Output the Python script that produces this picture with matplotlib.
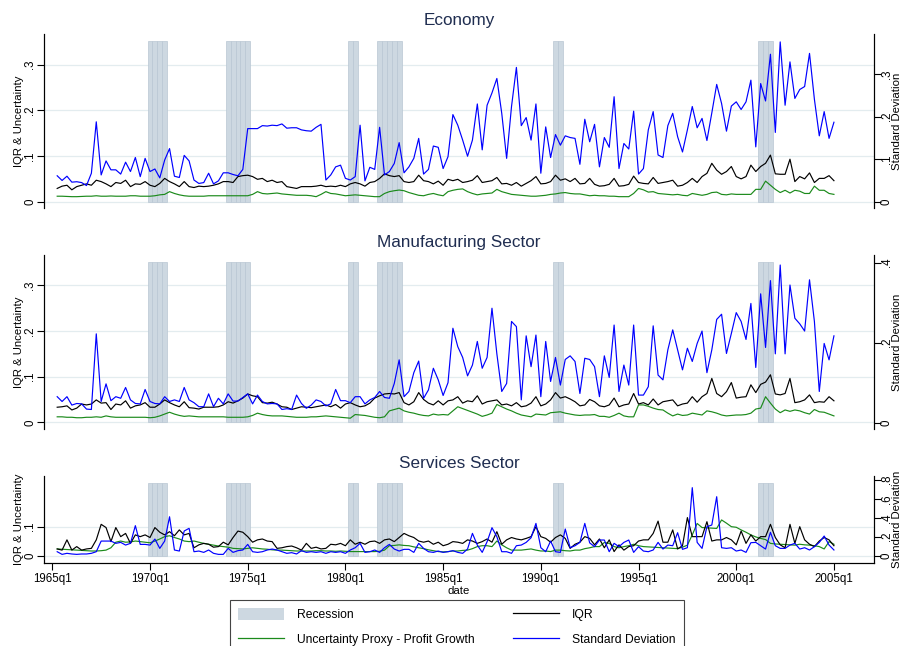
import numpy as np
import pandas as pd
import matplotlib
matplotlib.use("Agg")
import matplotlib.pyplot as plt
from matplotlib.patches import Patch
from matplotlib.lines import Line2D

plt.rcParams["font.family"] = ["Liberation Sans", "DejaVu Sans"]

# Trimestres de la muestra: 1965q2 - 2005q1
trimestres = pd.period_range("1965Q2", "2005Q1", freq="Q")

# Trimestres en recesion (NBER)
recesiones = ["1970Q1", "1970Q2", "1970Q3", "1970Q4",
              "1974Q1", "1974Q2", "1974Q3", "1974Q4", "1975Q1",
              "1980Q2", "1980Q3",
              "1981Q4", "1982Q1", "1982Q2", "1982Q3", "1982Q4",
              "1990Q4", "1991Q1",
              "2001Q2", "2001Q3", "2001Q4"]

# Altura de las barras de recesion en cada panel (eje izquierdo)
altura_recesion = [0.352, 0.350, 0.248]

# Economia
econ_sd = [0.061, 0.050, 0.060, 0.046, 0.047, 0.045, 0.038, 0.067, 0.188, 0.063,
           0.096, 0.075, 0.075, 0.065, 0.093, 0.071, 0.104, 0.059, 0.102, 0.071,
           0.077, 0.056, 0.098, 0.125, 0.060, 0.057, 0.109, 0.096, 0.051, 0.043,
           0.045, 0.067, 0.042, 0.049, 0.068, 0.068, 0.064, 0.061, 0.076, 0.172,
           0.172, 0.172, 0.179, 0.178, 0.180, 0.179, 0.183, 0.173, 0.174, 0.174,
           0.169, 0.167, 0.166, 0.175, 0.182, 0.051, 0.063, 0.082, 0.086, 0.055,
           0.051, 0.059, 0.180, 0.049, 0.081, 0.076, 0.175, 0.063, 0.071, 0.090,
           0.139, 0.068, 0.082, 0.102, 0.149, 0.065, 0.076, 0.131, 0.128, 0.078,
           0.106, 0.205, 0.180, 0.145, 0.107, 0.145, 0.230, 0.122, 0.227, 0.256,
           0.290, 0.208, 0.102, 0.224, 0.316, 0.179, 0.198, 0.145, 0.230, 0.067,
           0.176, 0.104, 0.158, 0.133, 0.155, 0.151, 0.149, 0.088, 0.194, 0.141,
           0.182, 0.082, 0.151, 0.128, 0.247, 0.078, 0.137, 0.124, 0.213, 0.065,
           0.078, 0.169, 0.212, 0.110, 0.104, 0.179, 0.208, 0.153, 0.117, 0.169,
           0.224, 0.174, 0.196, 0.144, 0.209, 0.276, 0.231, 0.166, 0.225, 0.235,
           0.217, 0.235, 0.286, 0.129, 0.278, 0.237, 0.347, 0.163, 0.376, 0.227,
           0.329, 0.243, 0.264, 0.271, 0.349, 0.241, 0.155, 0.212, 0.149, 0.187]
econ_iqr = [0.029, 0.034, 0.036, 0.026, 0.033, 0.036, 0.039, 0.036, 0.047, 0.044,
            0.039, 0.033, 0.042, 0.040, 0.047, 0.033, 0.039, 0.038, 0.044, 0.036,
            0.033, 0.040, 0.051, 0.044, 0.039, 0.033, 0.044, 0.033, 0.031, 0.034,
            0.033, 0.034, 0.036, 0.039, 0.044, 0.044, 0.042, 0.055, 0.057, 0.058,
            0.055, 0.049, 0.051, 0.044, 0.047, 0.042, 0.044, 0.033, 0.031, 0.029,
            0.033, 0.033, 0.033, 0.034, 0.036, 0.033, 0.034, 0.033, 0.036, 0.033,
            0.039, 0.042, 0.039, 0.034, 0.042, 0.044, 0.051, 0.061, 0.057, 0.055,
            0.057, 0.044, 0.042, 0.044, 0.058, 0.046, 0.044, 0.039, 0.045, 0.036,
            0.049, 0.046, 0.049, 0.042, 0.044, 0.047, 0.057, 0.042, 0.044, 0.046,
            0.053, 0.039, 0.040, 0.036, 0.042, 0.034, 0.040, 0.046, 0.055, 0.039,
            0.040, 0.044, 0.058, 0.047, 0.050, 0.044, 0.051, 0.039, 0.040, 0.051,
            0.038, 0.034, 0.035, 0.038, 0.051, 0.034, 0.035, 0.038, 0.056, 0.042,
            0.040, 0.039, 0.053, 0.040, 0.042, 0.044, 0.047, 0.034, 0.036, 0.042,
            0.051, 0.042, 0.055, 0.062, 0.084, 0.069, 0.060, 0.066, 0.077, 0.055,
            0.050, 0.055, 0.080, 0.066, 0.077, 0.084, 0.102, 0.061, 0.060, 0.060,
            0.093, 0.044, 0.055, 0.050, 0.063, 0.042, 0.051, 0.051, 0.057, 0.046]
econ_unc = [0.012, 0.012, 0.0115, 0.011, 0.011, 0.0115, 0.012, 0.012, 0.013, 0.012,
            0.012, 0.0125, 0.012, 0.012, 0.012, 0.013, 0.013, 0.012, 0.012, 0.012,
            0.013, 0.015, 0.016, 0.022, 0.018, 0.015, 0.013, 0.012, 0.012, 0.012,
            0.012, 0.013, 0.013, 0.013, 0.013, 0.013, 0.013, 0.013, 0.013, 0.013,
            0.016, 0.022, 0.018, 0.017, 0.018, 0.019, 0.017, 0.016, 0.015, 0.014,
            0.014, 0.014, 0.013, 0.011, 0.016, 0.022, 0.018, 0.017, 0.015, 0.013,
            0.014, 0.015, 0.014, 0.013, 0.012, 0.011, 0.011, 0.018, 0.022, 0.024,
            0.0255, 0.024, 0.020, 0.017, 0.014, 0.013, 0.016, 0.018, 0.015, 0.013,
            0.022, 0.025, 0.027, 0.028, 0.022, 0.018, 0.015, 0.017, 0.018, 0.019,
            0.027, 0.022, 0.019, 0.016, 0.015, 0.014, 0.013, 0.012, 0.012, 0.013,
            0.014, 0.016, 0.017, 0.019, 0.020, 0.018, 0.017, 0.017, 0.015, 0.013,
            0.014, 0.013, 0.013, 0.012, 0.012, 0.011, 0.011, 0.011, 0.018, 0.029,
            0.026, 0.021, 0.022, 0.018, 0.017, 0.016, 0.015, 0.016, 0.014, 0.013,
            0.018, 0.016, 0.014, 0.016, 0.020, 0.021, 0.016, 0.015, 0.017, 0.016,
            0.016, 0.016, 0.016, 0.027, 0.027, 0.045, 0.036, 0.027, 0.020, 0.025,
            0.019, 0.025, 0.023, 0.018, 0.018, 0.034, 0.025, 0.025, 0.018, 0.016]

# Sector manufacturero
manu_sd = [0.065, 0.053, 0.065, 0.044, 0.048, 0.047, 0.034, 0.033, 0.222, 0.053,
           0.097, 0.055, 0.065, 0.061, 0.088, 0.057, 0.048, 0.047, 0.083, 0.053,
           0.048, 0.047, 0.065, 0.053, 0.057, 0.053, 0.088, 0.057, 0.050, 0.040,
           0.040, 0.072, 0.040, 0.061, 0.047, 0.072, 0.054, 0.054, 0.063, 0.072,
           0.047, 0.069, 0.053, 0.047, 0.048, 0.047, 0.033, 0.035, 0.033, 0.069,
           0.048, 0.036, 0.044, 0.057, 0.053, 0.042, 0.047, 0.083, 0.055, 0.055,
           0.050, 0.065, 0.065, 0.047, 0.057, 0.063, 0.078, 0.063, 0.061, 0.098,
           0.157, 0.065, 0.078, 0.125, 0.154, 0.061, 0.082, 0.136, 0.107, 0.068,
           0.100, 0.236, 0.190, 0.163, 0.117, 0.144, 0.203, 0.136, 0.163, 0.286,
           0.172, 0.078, 0.098, 0.253, 0.240, 0.057, 0.217, 0.140, 0.219, 0.065,
           0.203, 0.103, 0.163, 0.094, 0.158, 0.167, 0.153, 0.073, 0.161, 0.158,
           0.140, 0.065, 0.167, 0.113, 0.244, 0.078, 0.144, 0.094, 0.244, 0.069,
           0.069, 0.090, 0.242, 0.119, 0.107, 0.182, 0.232, 0.182, 0.132, 0.186,
           0.153, 0.198, 0.229, 0.125, 0.182, 0.258, 0.271, 0.173, 0.223, 0.275,
           0.253, 0.208, 0.298, 0.138, 0.322, 0.188, 0.355, 0.172, 0.394, 0.172,
           0.344, 0.261, 0.247, 0.229, 0.357, 0.253, 0.078, 0.198, 0.157, 0.217]
manu_iqr = [0.033, 0.034, 0.036, 0.027, 0.031, 0.040, 0.038, 0.040, 0.049, 0.042,
            0.043, 0.028, 0.040, 0.038, 0.047, 0.031, 0.036, 0.038, 0.043, 0.033,
            0.033, 0.040, 0.049, 0.043, 0.038, 0.034, 0.045, 0.032, 0.031, 0.029,
            0.033, 0.033, 0.033, 0.034, 0.038, 0.045, 0.042, 0.047, 0.053, 0.062,
            0.058, 0.056, 0.043, 0.042, 0.044, 0.040, 0.034, 0.033, 0.028, 0.031,
            0.034, 0.033, 0.032, 0.034, 0.036, 0.038, 0.034, 0.039, 0.031, 0.040,
            0.043, 0.038, 0.034, 0.036, 0.042, 0.053, 0.058, 0.062, 0.063, 0.062,
            0.065, 0.043, 0.038, 0.045, 0.065, 0.050, 0.042, 0.038, 0.047, 0.038,
            0.047, 0.049, 0.056, 0.042, 0.047, 0.045, 0.058, 0.040, 0.045, 0.047,
            0.049, 0.038, 0.040, 0.036, 0.043, 0.034, 0.036, 0.042, 0.056, 0.036,
            0.040, 0.049, 0.065, 0.053, 0.056, 0.051, 0.045, 0.036, 0.038, 0.050,
            0.045, 0.036, 0.034, 0.038, 0.053, 0.034, 0.038, 0.040, 0.063, 0.040,
            0.043, 0.038, 0.051, 0.038, 0.045, 0.047, 0.049, 0.036, 0.040, 0.042,
            0.056, 0.044, 0.056, 0.063, 0.096, 0.063, 0.056, 0.067, 0.087, 0.053,
            0.055, 0.056, 0.082, 0.065, 0.083, 0.088, 0.104, 0.062, 0.060, 0.063,
            0.096, 0.043, 0.045, 0.049, 0.060, 0.043, 0.045, 0.044, 0.056, 0.047]
manu_unc = [0.012, 0.012, 0.011, 0.011, 0.010, 0.010, 0.011, 0.011, 0.012, 0.011,
            0.014, 0.012, 0.011, 0.011, 0.011, 0.011, 0.011, 0.011, 0.011, 0.010,
            0.011, 0.014, 0.018, 0.022, 0.018, 0.015, 0.013, 0.014, 0.013, 0.012,
            0.012, 0.012, 0.012, 0.012, 0.012, 0.011, 0.011, 0.011, 0.011, 0.012,
            0.015, 0.020, 0.017, 0.015, 0.014, 0.014, 0.014, 0.013, 0.012, 0.011,
            0.011, 0.011, 0.012, 0.012, 0.013, 0.014, 0.013, 0.012, 0.011, 0.010,
            0.009, 0.017, 0.016, 0.015, 0.013, 0.011, 0.010, 0.012, 0.025, 0.028,
            0.031, 0.025, 0.022, 0.020, 0.017, 0.015, 0.014, 0.018, 0.016, 0.017,
            0.016, 0.025, 0.034, 0.030, 0.026, 0.022, 0.018, 0.013, 0.016, 0.020,
            0.039, 0.034, 0.029, 0.025, 0.020, 0.016, 0.014, 0.012, 0.018, 0.017,
            0.016, 0.021, 0.022, 0.023, 0.020, 0.018, 0.016, 0.015, 0.016, 0.016,
            0.017, 0.013, 0.013, 0.011, 0.015, 0.020, 0.014, 0.012, 0.012, 0.038,
            0.038, 0.035, 0.031, 0.028, 0.027, 0.020, 0.014, 0.018, 0.015, 0.016,
            0.020, 0.018, 0.016, 0.025, 0.023, 0.020, 0.016, 0.014, 0.015, 0.016,
            0.016, 0.017, 0.020, 0.029, 0.031, 0.056, 0.042, 0.029, 0.021, 0.027,
            0.024, 0.027, 0.025, 0.021, 0.018, 0.028, 0.023, 0.022, 0.018, 0.014]

# Sector servicios
serv_sd = [0.042, 0.014, 0.025, 0.018, 0.014, 0.018, 0.018, 0.025, 0.042, 0.154,
           0.154, 0.154, 0.130, 0.140, 0.112, 0.130, 0.316, 0.119, 0.119, 0.112,
           0.175, 0.077, 0.154, 0.410, 0.060, 0.049, 0.260, 0.288, 0.042, 0.049,
           0.035, 0.060, 0.025, 0.014, 0.014, 0.077, 0.035, 0.053, 0.060, 0.119,
           0.042, 0.035, 0.042, 0.060, 0.070, 0.060, 0.042, 0.025, 0.032, 0.018,
           0.053, 0.035, 0.042, 0.035, 0.042, 0.025, 0.042, 0.035, 0.042, 0.025,
           0.060, 0.084, 0.130, 0.035, 0.042, 0.060, 0.035, 0.084, 0.119, 0.070,
           0.049, 0.067, 0.067, 0.035, 0.130, 0.077, 0.042, 0.035, 0.049, 0.035,
           0.042, 0.053, 0.035, 0.025, 0.070, 0.235, 0.112, 0.035, 0.147, 0.295,
           0.200, 0.042, 0.042, 0.025, 0.105, 0.112, 0.140, 0.189, 0.340, 0.084,
           0.042, 0.154, 0.042, 0.035, 0.281, 0.084, 0.105, 0.140, 0.340, 0.135,
           0.095, 0.165, 0.165, 0.042, 0.130, 0.095, 0.140, 0.165, 0.035, 0.095,
           0.049, 0.042, 0.060, 0.140, 0.070, 0.112, 0.105, 0.242, 0.067, 0.084,
           0.716, 0.140, 0.077, 0.305, 0.323, 0.621, 0.084, 0.077, 0.084, 0.049,
           0.060, 0.035, 0.137, 0.140, 0.105, 0.070, 0.246, 0.105, 0.077, 0.077,
           0.112, 0.130, 0.070, 0.084, 0.060, 0.095, 0.140, 0.207, 0.112, 0.060]
serv_iqr = [0.024, 0.020, 0.055, 0.020, 0.032, 0.020, 0.024, 0.026, 0.055, 0.108,
            0.097, 0.049, 0.097, 0.066, 0.077, 0.043, 0.072, 0.066, 0.072, 0.063,
            0.097, 0.081, 0.072, 0.083, 0.069, 0.089, 0.072, 0.077, 0.028, 0.038,
            0.043, 0.040, 0.030, 0.032, 0.047, 0.038, 0.063, 0.085, 0.081, 0.066,
            0.047, 0.055, 0.058, 0.051, 0.049, 0.026, 0.028, 0.032, 0.034, 0.028,
            0.020, 0.043, 0.026, 0.030, 0.024, 0.026, 0.040, 0.038, 0.043, 0.035,
            0.055, 0.040, 0.047, 0.040, 0.049, 0.051, 0.043, 0.055, 0.058, 0.049,
            0.063, 0.077, 0.069, 0.063, 0.051, 0.047, 0.051, 0.040, 0.047, 0.035,
            0.040, 0.049, 0.047, 0.043, 0.055, 0.051, 0.043, 0.049, 0.058, 0.047,
            0.083, 0.040, 0.055, 0.063, 0.058, 0.055, 0.060, 0.066, 0.100, 0.066,
            0.060, 0.047, 0.063, 0.072, 0.060, 0.026, 0.040, 0.047, 0.066, 0.060,
            0.038, 0.058, 0.028, 0.055, 0.015, 0.038, 0.020, 0.032, 0.035, 0.051,
            0.055, 0.055, 0.077, 0.119, 0.047, 0.047, 0.089, 0.024, 0.035, 0.131,
            0.066, 0.066, 0.066, 0.117, 0.051, 0.055, 0.055, 0.063, 0.055, 0.038,
            0.085, 0.043, 0.072, 0.051, 0.066, 0.066, 0.108, 0.063, 0.038, 0.028,
            0.108, 0.043, 0.100, 0.055, 0.040, 0.032, 0.051, 0.063, 0.055, 0.035]
serv_unc = [0.024, 0.023, 0.022, 0.021, 0.020, 0.019, 0.018, 0.017, 0.017, 0.018,
            0.020, 0.028, 0.047, 0.051, 0.047, 0.048, 0.051, 0.049, 0.047, 0.045,
            0.051, 0.058, 0.066, 0.069, 0.063, 0.058, 0.051, 0.049, 0.051, 0.047,
            0.043, 0.040, 0.037, 0.034, 0.032, 0.030, 0.026, 0.025, 0.024, 0.026,
            0.028, 0.026, 0.024, 0.023, 0.021, 0.020, 0.020, 0.019, 0.018, 0.017,
            0.017, 0.017, 0.017, 0.018, 0.018, 0.017, 0.017, 0.016, 0.017, 0.016,
            0.015, 0.015, 0.015, 0.015, 0.015, 0.015, 0.016, 0.020, 0.035, 0.036,
            0.038, 0.036, 0.035, 0.031, 0.028, 0.025, 0.021, 0.018, 0.015, 0.014,
            0.015, 0.017, 0.017, 0.019, 0.020, 0.025, 0.032, 0.035, 0.035, 0.032,
            0.051, 0.038, 0.028, 0.020, 0.020, 0.020, 0.022, 0.024, 0.020, 0.017,
            0.017, 0.015, 0.020, 0.020, 0.018, 0.017, 0.020, 0.020, 0.025, 0.028,
            0.032, 0.032, 0.046, 0.043, 0.032, 0.028, 0.032, 0.035, 0.040, 0.035,
            0.032, 0.031, 0.030, 0.029, 0.028, 0.027, 0.026, 0.025, 0.030, 0.037,
            0.072, 0.111, 0.097, 0.096, 0.095, 0.094, 0.123, 0.112, 0.100, 0.098,
            0.089, 0.081, 0.072, 0.065, 0.060, 0.056, 0.043, 0.041, 0.040, 0.039,
            0.038, 0.037, 0.040, 0.038, 0.037, 0.035, 0.032, 0.024, 0.049, 0.040]

# Etiquetas de los ejes
ticks_izq = [[0, 0.1, 0.2, 0.3], [0, 0.1, 0.2, 0.3], [0, 0.1]]
ticks_der = [[0, 0.1, 0.2, 0.3], [0, 0.2, 0.4], [0, 0.2, 0.4, 0.6, 0.8]]
anios_eje = [1965, 1970, 1975, 1980, 1985, 1990, 1995, 2000, 2005]


def fecha_decimal(periodos):
    # Convierte trimestres a anio decimal para el eje x
    periodos = pd.PeriodIndex(periodos, freq="Q")
    return periodos.year + (periodos.quarter - 1) / 4.0


def etiqueta(v):
    # Formato tipo Stata: .1 en lugar de 0.1
    if v == 0:
        return "0"
    return ("%g" % v).lstrip("0")


x = fecha_decimal(trimestres)
x_rec = fecha_decimal(recesiones)

AZUL = "#0000ff"
VERDE = "#1b8a1b"
GRIS_REC = "#cdd8e1"
GRID = "#e3ecef"
TITULO = "#1f2d50"

paneles = [
    ("Economy", econ_iqr, econ_unc, econ_sd),
    ("Manufacturing Sector", manu_iqr, manu_unc, manu_sd),
    ("Services Sector", serv_iqr, serv_unc, serv_sd),
]

# Posicion de cada panel en pixeles (arriba, abajo) y limites de los ejes
W, H = 904, 646
filas = [(34, 208), (255, 429.3), (475.7, 563.3)]
lim_izq = [(-0.0138, 0.367), (-0.0153, 0.366), (-0.025, 0.274)]
lim_der = [(-0.0148, 0.3946), (-0.0165, 0.419), (-0.08, 0.842)]
y_titulo = [20, 242, 464]

fig = plt.figure(figsize=(W / 100, H / 100), dpi=100)
fig.patch.set_facecolor("white")

for i, (titulo, iqr, unc, sd) in enumerate(paneles):
    arriba, abajo = filas[i]
    ax = fig.add_axes([44 / W, 1 - abajo / H, 830 / W, (abajo - arriba) / H])
    ax2 = ax.twinx()

    # Barras de recesion
    ax.bar(x_rec, altura_recesion[i], width=0.25, color=GRIS_REC,
           edgecolor="#b9c7d3", linewidth=0.5, zorder=1)
    ax.plot(x, unc, color=VERDE, lw=0.85, zorder=3)
    ax.plot(x, iqr, color="black", lw=0.85, zorder=4)
    ax2.plot(x, sd, color=AZUL, lw=0.85, zorder=5)

    ax.set_xlim(1964.575, 2007.05)
    ax.set_ylim(*lim_izq[i])
    ax2.set_ylim(*lim_der[i])

    # Etiquetas verticales centradas a unos 7 px del final de la marca
    ax.set_yticks(ticks_izq[i])
    ax.set_yticklabels([etiqueta(v) for v in ticks_izq[i]], rotation=90,
                       va="center", ha="center")
    ax2.set_yticks(ticks_der[i])
    ax2.set_yticklabels([etiqueta(v) for v in ticks_der[i]], rotation=90,
                        va="center", ha="center")

    ax.yaxis.grid(True, color=GRID, lw=0.9, zorder=0)
    ax.set_axisbelow(True)

    for a in (ax, ax2):
        a.spines["top"].set_visible(False)
        a.tick_params(axis="y", length=5, width=0.8, labelsize=8.3, colors="black")
        for lado in ("left", "right", "bottom"):
            a.spines[lado].set_linewidth(0.8)
    ax.tick_params(axis="y", pad=4.8)
    ax2.tick_params(axis="y", pad=4.3)

    ax.set_ylabel("IQR & Uncertainty", fontsize=8.2)
    ax.yaxis.set_label_coords(-0.0235, 0.5)
    ax2.set_ylabel("Standard Deviation", fontsize=8.2)
    ax2.yaxis.set_label_coords(1.022, 0.5)

    if i < 2:
        ax.spines["bottom"].set_visible(False)
        ax2.spines["bottom"].set_visible(False)
        ax.tick_params(axis="x", bottom=False, labelbottom=False)
        ax2.tick_params(axis="x", bottom=False, labelbottom=False)
    else:
        ax.set_xticks(anios_eje)
        ax.set_xticklabels(["%dq1" % a for a in anios_eje])
        ax.tick_params(axis="x", length=5, width=0.8, pad=2, labelsize=8.3)
        ax.set_xlabel("date", fontsize=8.2, labelpad=1)

    fig.text(459 / W, 1 - y_titulo[i] / H, titulo, ha="center", va="center",
             fontsize=12.3, color=TITULO)

# Leyenda
manijas = [Patch(facecolor=GRIS_REC, edgecolor="none"),
           Line2D([], [], color=VERDE, lw=0.9),
           Line2D([], [], color="black", lw=0.9),
           Line2D([], [], color=AZUL, lw=0.9)]
nombres = ["Recession", "Uncertainty Proxy - Profit Growth", "IQR", "Standard Deviation"]
leg = fig.legend(manijas, nombres, ncol=2, loc="upper left",
                 bbox_to_anchor=(230 / W, 1 - 600 / H), fontsize=8.7,
                 frameon=True, fancybox=False, framealpha=1,
                 handlelength=3.8, handleheight=1.1, handletextpad=1.05,
                 columnspacing=3.2, labelspacing=0.95, borderpad=0.7,
                 borderaxespad=0)
leg.get_frame().set_edgecolor("#444444")
leg.get_frame().set_linewidth(0.8)

fig.savefig("out.png", dpi=100, facecolor="white")
